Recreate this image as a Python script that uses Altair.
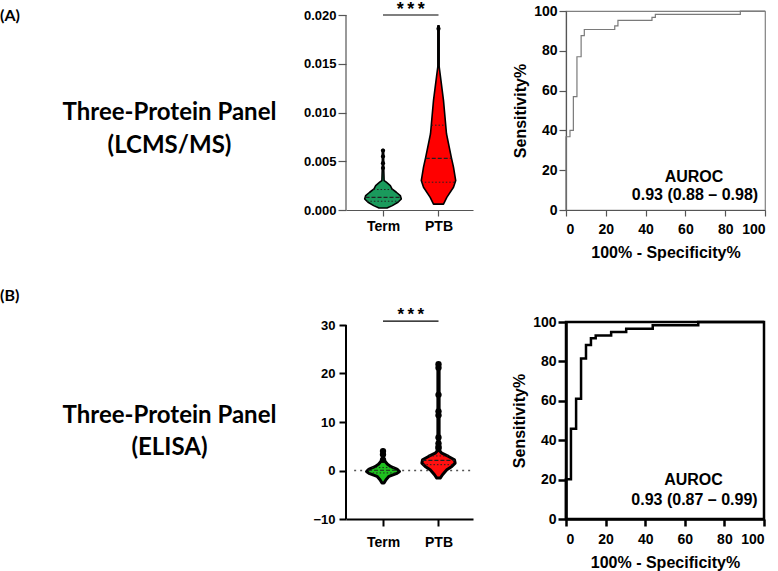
import altair as alt
import pandas as pd

AX_FONT = "Liberation Sans"
TXT_FONT = "Lato"

groups = ["Term", "PTB"]
group_pos = [1, 2]

# ---------------- LC-MS/MS panel ----------------
# violin outlines: value level -> half width (in category units)
lcms_term_level = [0.0002, 0.00045, 0.00079, 0.00113, 0.00148, 0.00182, 0.00216, 0.0025, 0.00285, 0.00302, 0.0045, 0.0062]
lcms_term_half = [0.072, 0.168, 0.27, 0.33, 0.312, 0.24, 0.162, 0.132, 0.06, 0.02, 0.012, 0.012]
lcms_ptb_level = [0.0006, 0.0013, 0.00233, 0.00302, 0.00439, 0.00542, 0.00782, 0.01125, 0.01365, 0.0147, 0.0189]
lcms_ptb_half = [0.09, 0.15, 0.27, 0.31, 0.27, 0.23, 0.144, 0.09, 0.036, 0.012, 0.012]
lcms_term_dots = [0.0043, 0.0048, 0.0055, 0.0061]
lcms_ptb_dots = [0.0186]
# quartiles (Q1, median, Q3) and their half widths
lcms_term_quart = [0.0009, 0.0013, 0.0021]
lcms_term_quart_half = [0.29, 0.315, 0.17]
lcms_ptb_quart = [0.00285, 0.0053, 0.0087]
lcms_ptb_quart_half = [0.31, 0.23, 0.126]
lcms_ticks = [0.0, 0.005, 0.010, 0.015, 0.020]

lcms_fpr = [0, 0, 2.0, 3.7, 5.5, 7.6, 9.2, 24.5, 26.1, 43.2, 44.9, 87.6, 100]
lcms_tpr = [0, 36.8, 40, 57, 77, 87.6, 90.7, 92.5, 95.3, 96.8, 98.3, 100, 100]
lcms_auc = ["AUROC", "0.93 (0.88 \u2013 0.98)"]

# ---------------- ELISA panel ----------------
elisa_term_level = [-2.6, -1.9, -1.2, -0.6, -0.2, 0.3, 0.8, 1.3, 1.9, 2.5, 4.2]
elisa_term_half = [0.018, 0.054, 0.108, 0.252, 0.297, 0.252, 0.144, 0.081, 0.036, 0.011, 0.011]
elisa_ptb_level = [-1.56, -0.87, 0.15, 0.84, 1.53, 2.21, 2.9, 3.58, 4.2, 22.0]
elisa_ptb_half = [0.031, 0.072, 0.15, 0.24, 0.3, 0.288, 0.18, 0.06, 0.011, 0.011]
elisa_term_dots = [2.2, 3.3, 4.0]
elisa_ptb_dots = [4.6, 4.9, 5.6, 6.8, 11.4, 12.2, 15.6, 21.2, 21.9]
elisa_term_quart = [-0.5, 0.05, 0.6]
elisa_term_quart_half = [0.25, 0.27, 0.2]
elisa_ptb_quart = [1.2, 2.1, 3.0]
elisa_ptb_quart_half = [0.28, 0.29, 0.17]
elisa_ticks = [-10, 0, 10, 20, 30]

elisa_fpr = [0, 0, 2.5, 5.1, 7.6, 10.1, 12.6, 15.0, 22.8, 30.4, 43.8, 66.8, 100]
elisa_tpr = [0, 20.2, 45.8, 61, 81.5, 88.3, 91.7, 93.2, 94.9, 96.6, 98.3, 100, 100]
elisa_auc = ["AUROC", "0.93 (0.87 \u2013 0.99)"]

STARS = "*\u2009*\u2009*"

label_expr = " : ".join(
    f"datum.value == {p} ? '{g}'" for p, g in zip(group_pos[:-1], groups[:-1])
) + f" : '{groups[-1]}'"


def outline_frame(levels, halves):
    rows = []
    for g, p, lev, half in zip(groups, group_pos, levels, halves):
        for v, h in zip(lev, half):
            rows.append({"group": g, "v": v, "lo": p - h, "hi": p + h})
    return pd.DataFrame(rows)


def quart_frame(levels, halves):
    rows = []
    for g, p, lev, half in zip(groups, group_pos, levels, halves):
        for i, (v, h) in enumerate(zip(lev, half)):
            rows.append({"group": g, "v": v, "lo": p - h, "hi": p + h,
                         "kind": "median" if i == 1 else "quartile"})
    return pd.DataFrame(rows)


def dot_frame(dots):
    rows = []
    for g, p, ds in zip(groups, group_pos, dots):
        for v in ds:
            rows.append({"group": g, "v": v, "lo": p})
    return pd.DataFrame(rows)


def violin(levels, halves, dots, quarts, quart_halves, colors, y_top, ticks, fmt,
           ax_color, ax_w, ytick, xtick, xpad, ypad, stroke_w, dot_size,
           sig_y, star_size, star_dy, width, height, zero_line=False):
    xs = alt.Scale(domain=[1 - 37 / 55.5, 1 + (width - 37) / 55.5], nice=False, zero=False)
    ys = alt.Scale(domain=[ticks[0], y_top], nice=False, zero=False)
    xaxis = alt.Axis(values=group_pos, labelExpr=label_expr, grid=False,
                     domainColor=ax_color, domainWidth=ax_w, tickColor=ax_color,
                     tickWidth=ax_w, tickSize=xtick, labelPadding=xpad,
                     labelFont=AX_FONT, labelFontWeight="bold", labelFontSize=14,
                     labelColor="black", labelOverlap=False, title=None)
    yaxis = alt.Axis(values=ticks, format=fmt, grid=False, domain=False,
                     tickColor=ax_color, tickWidth=ax_w, tickSize=ytick,
                     labelPadding=ypad, labelFont=AX_FONT, labelFontWeight="bold",
                     labelFontSize=13, labelColor="black", labelOverlap=False, title=None)

    def X(field):
        return alt.X(field, type="quantitative", scale=xs, axis=xaxis)

    def Y(field):
        return alt.Y(field, type="quantitative", scale=ys, axis=yaxis)

    color = alt.Color("group:N", scale=alt.Scale(domain=groups, range=colors), legend=None)

    layers = []
    if zero_line:
        zl = pd.DataFrame({"v": [0.0], "lo": [0.48], "hi": [xs.domain[1]]})
        layers.append(alt.Chart(zl).mark_rule(color="#555555", strokeWidth=1.6,
                                             strokeDash=[2, 4]).encode(
            x=X("lo"), x2="hi", y=Y("v")))

    area = alt.Chart(outline_frame(levels, halves)).mark_area(
        orient="horizontal", stroke="black", strokeWidth=stroke_w,
        strokeJoin="round", fillOpacity=1).encode(
        y=Y("v"), x=X("lo"), x2="hi", color=color, detail="group:N")
    layers.append(area)

    qd = quart_frame(quarts, quart_halves)
    layers.append(alt.Chart(qd).transform_filter("datum.kind == 'quartile'").mark_rule(
        color="#222222", strokeWidth=1, strokeDash=[1.5, 2]).encode(
        x=X("lo"), x2="hi", y=Y("v")))
    layers.append(alt.Chart(qd).transform_filter("datum.kind == 'median'").mark_rule(
        color="#222222", strokeWidth=1.2, strokeDash=[4, 2]).encode(
        x=X("lo"), x2="hi", y=Y("v")))

    layers.append(alt.Chart(dot_frame(dots)).mark_circle(
        color="black", opacity=1, size=dot_size).encode(x=X("lo"), y=Y("v")))

    dom = pd.DataFrame({"v": [ticks[0]], "v2": [ticks[-1]]})
    layers.append(alt.Chart(dom).mark_rule(color=ax_color, strokeWidth=ax_w).encode(
        x=alt.value(0), y=Y("v"), y2="v2"))

    sig = pd.DataFrame({"lo": [group_pos[0]], "hi": [group_pos[1]],
                        "mid": [(group_pos[0] + group_pos[1]) / 2], "v": [sig_y], "t": [STARS]})
    layers.append(alt.Chart(sig).mark_rule(color="black", strokeWidth=1.2).encode(
        x=X("lo"), x2="hi", y=Y("v")))
    layers.append(alt.Chart(sig).mark_text(
        font=AX_FONT, fontWeight="bold", fontSize=star_size, baseline="alphabetic",
        dy=star_dy, color="black").encode(x=X("mid"), y=Y("v"), text="t:N"))

    return alt.layer(*layers).properties(width=width, height=height)


def roc(fpr, tpr, auc_lines, auc_x, auc_y, line_color, line_w, frame_color, frame_w,
        ax_color, ax_w, ytick, xtick, width, height):
    df = pd.DataFrame({"fpr": fpr, "tpr": tpr, "i": list(range(len(fpr)))})
    sx = alt.Scale(domain=[0, 100], nice=False)
    sy = alt.Scale(domain=[0, 100], nice=False)
    common = dict(grid=False, values=[0, 20, 40, 60, 80, 100], labelOverlap=False,
                  domainColor=ax_color, domainWidth=ax_w, tickColor=ax_color,
                  tickWidth=ax_w, labelFont=AX_FONT, labelFontWeight="bold",
                  labelFontSize=14, labelColor="black", titleFont=AX_FONT,
                  titleFontWeight="bold", titleFontSize=16, titleColor="black")
    xaxis = alt.Axis(title="100% - Specificity%", tickSize=xtick, labelPadding=6,
                     titlePadding=8, **common)
    yaxis = alt.Axis(title="Sensitivity%", tickSize=ytick, labelPadding=2,
                     titlePadding=5, **common)
    line = alt.Chart(df).mark_line(interpolate="step-after", color=line_color,
                                   strokeWidth=line_w, clip=False).encode(
        x=alt.X("fpr:Q", scale=sx, axis=xaxis),
        y=alt.Y("tpr:Q", scale=sy, axis=yaxis),
        order="i:Q")
    tdf = pd.DataFrame({"fpr": auc_x, "tpr": auc_y, "t": auc_lines})
    txt = alt.Chart(tdf).mark_text(font=AX_FONT, fontWeight="bold", fontSize=16,
                                   baseline="alphabetic", color="black").encode(
        x=alt.X("fpr:Q", scale=sx, axis=xaxis),
        y=alt.Y("tpr:Q", scale=sy, axis=yaxis), text="t:N")
    return alt.layer(line, txt).properties(
        width=width, height=height,
        view=alt.ViewBackground(stroke=frame_color, strokeWidth=frame_w))


def text_panel(tag, tag_y, lines, line_y, line_h, width, height):
    d = pd.DataFrame({"tag": [tag], "name": ["\n".join(lines)]})
    tag_mark = alt.Chart(d).mark_text(font=TXT_FONT, fontWeight="bold", fontSize=16,
                                      align="left", baseline="alphabetic",
                                      color="black").encode(
        x=alt.value(0), y=alt.value(tag_y), text="tag:N")
    name_mark = alt.Chart(d).mark_text(font=TXT_FONT, fontWeight="bold", fontSize=24,
                                       align="center", baseline="alphabetic",
                                       lineBreak="\n", lineHeight=line_h,
                                       color="black").encode(
        x=alt.value(169.5), y=alt.value(line_y), text="name:N")
    return alt.layer(tag_mark, name_mark).properties(width=width, height=height)


text_a = text_panel("(A)", 9.7, ["Three-Protein Panel", "(LCMS/MS)"], 109, 33, 253, 199)
text_b = text_panel("(B)", -21.3, ["Three-Protein Panel", "(ELISA)"], 101, 32, 253, 197)

violin_a = violin([lcms_term_level, lcms_ptb_level], [lcms_term_half, lcms_ptb_half],
                  [lcms_term_dots, lcms_ptb_dots], [lcms_term_quart, lcms_ptb_quart],
                  [lcms_term_quart_half, lcms_ptb_quart_half],
                  ["#1a9a5c", "#ff0000"], 0.02 * 199 / 195, lcms_ticks, ".3f",
                  "#555555", 1.2, 8, 6, 3, 2, 1.6, 18,
                  0.020, 18, 0, 127, 199)

violin_b = violin([elisa_term_level, elisa_ptb_level], [elisa_term_half, elisa_ptb_half],
                  [elisa_term_dots, elisa_ptb_dots], [elisa_term_quart, elisa_ptb_quart],
                  [elisa_term_quart_half, elisa_ptb_quart_half],
                  ["#1fc01f", "#ff1010"], 30 + 3 * 40 / 194, elisa_ticks, "d",
                  "black", 2, 7, 7, 9, 4, 3, 40,
                  30.8, 17, -1, 127, 197, zero_line=True)

roc_a = roc(lcms_fpr, lcms_tpr, lcms_auc, [64.3, 64.8], [14.1, 5.0],
            "#7a7a7a", 1.2, "#808080", 1.2, "#555555", 1.2, 7, 6, 199, 199)
roc_b = roc(elisa_fpr, elisa_tpr, elisa_auc, [64.4, 64.9], [17.3, 7.1],
            "black", 2.5, "black", 2.5, "black", 2.5, 8, 7, 198, 197)

chart = alt.concat(
    text_a, violin_a, roc_a, text_b, violin_b, roc_b,
    columns=3, spacing={"row": 112, "column": 93}, bounds="flush",
).resolve_scale(
    color="independent"
).properties(
    padding={"left": 0, "top": 11, "right": 778, "bottom": 560},
    autosize=alt.AutoSizeParams(type="none"),
    background="white",
).configure_view(strokeWidth=0)

chart.save("out.html", embed_options={"renderer": "svg", "actions": False})
